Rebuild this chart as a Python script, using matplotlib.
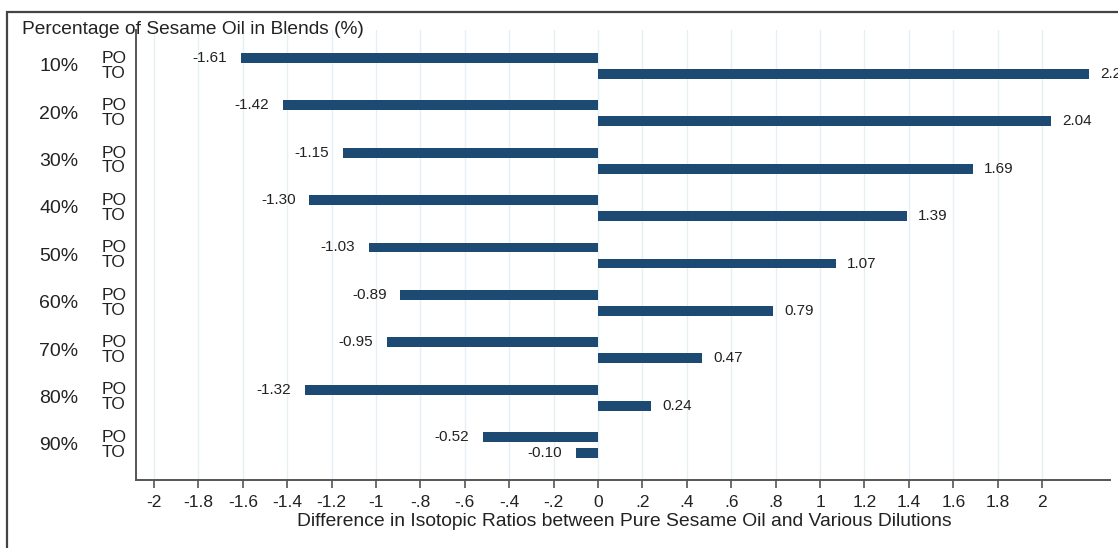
import matplotlib
matplotlib.use("Agg")
import matplotlib.pyplot as plt
import numpy as np
from matplotlib.patches import Rectangle
from matplotlib.transforms import blended_transform_factory

# -- Data --
blends = ["10%", "20%", "30%", "40%", "50%", "60%", "70%", "80%", "90%"]
po_values = [-1.61, -1.42, -1.15, -1.30, -1.03, -0.89, -0.95, -1.32, -0.52]
to_values = [2.21, 2.04, 1.69, 1.39, 1.07, 0.79, 0.47, 0.24, -0.10]
x_ticks = [-2, -1.8, -1.6, -1.4, -1.2, -1, -0.8, -0.6, -0.4, -0.2,
           0, 0.2, 0.4, 0.6, 0.8, 1, 1.2, 1.4, 1.6, 1.8, 2]
x_tick_labels = ["-2", "-1.8", "-1.6", "-1.4", "-1.2", "-1", "-.8", "-.6", "-.4", "-.2",
                 "0", ".2", ".4", ".6", ".8", "1", "1.2", "1.4", "1.6", "1.8", "2"]

plt.rcParams["font.family"] = ["Liberation Sans", "DejaVu Sans"]

W, H = 1118, 548
fig = plt.figure(figsize=(W / 100, H / 100), dpi=100)
ax = fig.add_axes([136 / W, (H - 480) / H, (1110 - 136) / W, (480 - 30) / H])

bar_color = "#1d4a72"
step = 2.96
po_pos = np.arange(len(blends)) * step
to_pos = po_pos + 1

ax.barh(po_pos, po_values, height=0.62, color=bar_color, zorder=3)
ax.barh(to_pos, to_values, height=0.62, color=bar_color, zorder=3)

# -- Value labels --
for pos, val in list(zip(po_pos, po_values)) + list(zip(to_pos, to_values)):
    if val < 0:
        ax.annotate(f"{val:.2f}", (val, pos), xytext=(-10, 0), textcoords="offset points",
                    ha="right", va="center", fontsize=11, color="#222222",
                    annotation_clip=False)
    else:
        ax.annotate(f"{val:.2f}", (val, pos), xytext=(8, 0), textcoords="offset points",
                    ha="left", va="center", fontsize=11, color="#222222",
                    annotation_clip=False)

ax.set_xlim(-2.081, 2.306)
ax.set_ylim(po_pos[-1] + 1 + 27 / 16, -28 / 16)

ax.set_xticks(x_ticks)
ax.set_xticklabels(x_tick_labels, fontsize=12.5, color="#222222")
ax.tick_params(axis="x", direction="out", length=6, width=1.2, color="#555555", pad=5)
ax.set_yticks([])
ax.grid(axis="x", color="#e6eff1", linewidth=1, zorder=0)

for side in ["top", "right"]:
    ax.spines[side].set_visible(False)
for side in ["left", "bottom"]:
    ax.spines[side].set_color("#555555")
    ax.spines[side].set_linewidth(1.4)

# -- Row labels on the left --
trans = blended_transform_factory(fig.transFigure, ax.transData)
for i, name in enumerate(blends):
    fig.text(59 / W, po_pos[i] + 0.55, name, transform=trans, ha="center", va="center",
             fontsize=14, color="#222222")
    fig.text(114 / W, po_pos[i] + 0.02, "PO", transform=trans, ha="center", va="center",
             fontsize=12.5, color="#222222")
    fig.text(114 / W, to_pos[i] - 0.05, "TO", transform=trans, ha="center", va="center",
             fontsize=12.5, color="#222222")

fig.text(22 / W, 1 - 29 / H, "Percentage of Sesame Oil in Blends (%)", ha="left", va="center",
         fontsize=13.8, color="#222222")
fig.text(624 / W, 1 - 521 / H,
         "Difference in Isotopic Ratios between Pure Sesame Oil and Various Dilutions",
         ha="center", va="center", fontsize=13.9, color="#222222")

# -- Outer frame --
fig.patches.append(Rectangle((7 / W, -0.1), 1.2, 1 - 12 / H + 0.1, transform=fig.transFigure,
                             fill=False, edgecolor="#444444", linewidth=1.6))

fig.savefig("out.png", dpi=100)
